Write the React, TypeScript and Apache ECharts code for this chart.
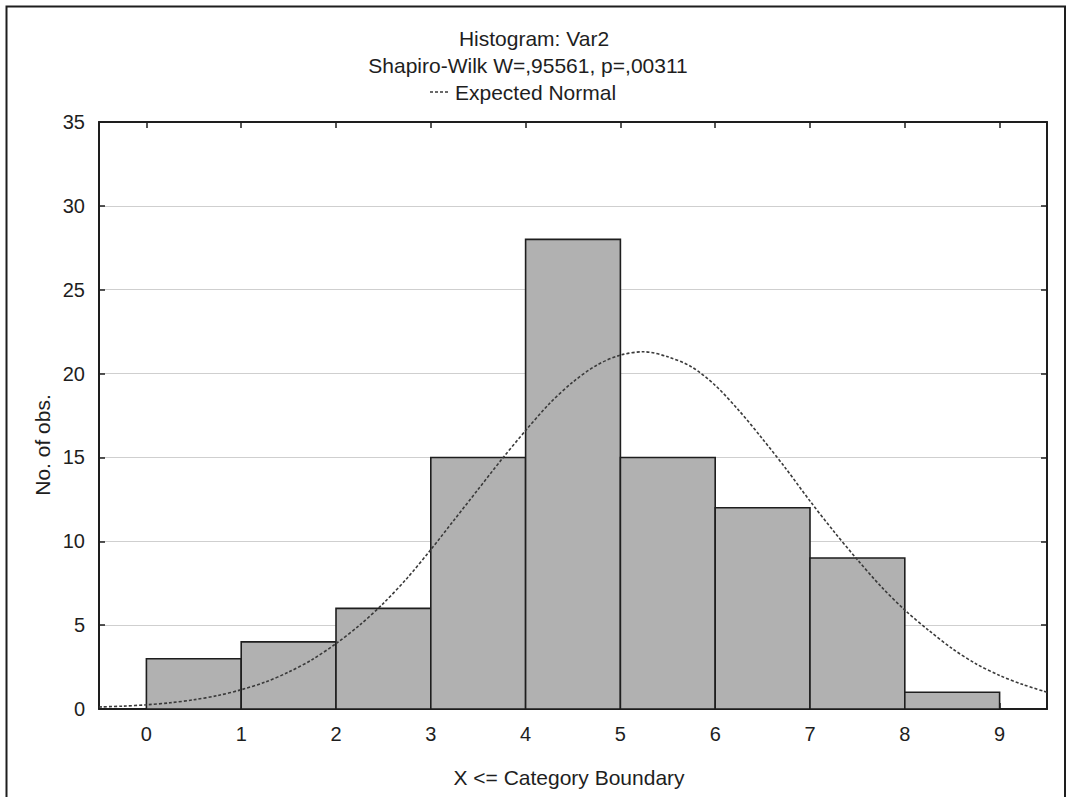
import React, { useEffect, useRef } from "react";
import * as echarts from "echarts";

// Histogram bins (lower/upper category boundaries) and observed counts
const binLower = [0, 1, 2, 3, 4, 5, 6, 7, 8];
const binUpper = [1, 2, 3, 4, 5, 6, 7, 8, 9];
const counts = [3, 4, 6, 15, 28, 15, 12, 9, 1];

// Expected normal curve, sampled every quarter unit along the x axis
const curveX = [
  -0.5, -0.25, 0, 0.25, 0.5, 0.75, 1, 1.25, 1.5, 1.75, 2, 2.25, 2.5, 2.75, 3, 3.25, 3.5, 3.75, 4, 4.25, 4.5,
  4.75, 5, 5.25, 5.5, 5.75, 6, 6.25, 6.5, 6.75, 7, 7.25, 7.5, 7.75, 8, 8.25, 8.5, 8.75, 9, 9.25, 9.5,
];
const curveY = [
  0.12, 0.17, 0.25, 0.37, 0.55, 0.8, 1.15, 1.6, 2.2, 2.95, 3.9, 5.0, 6.3, 7.8, 9.5, 11.3, 13.1, 14.9, 16.6, 18.2,
  19.5, 20.5, 21.1, 21.3, 21.0, 20.4, 19.3, 17.8, 16.1, 14.3, 12.4, 10.6, 8.9, 7.3, 5.9, 4.7, 3.6, 2.7, 2.0, 1.45,
  1.0,
];

const xTicks = [0, 1, 2, 3, 4, 5, 6, 7, 8, 9];

const titleText = "Histogram: Var2";
const subtitleText = "Shapiro-Wilk W=,95561, p=,00311";
const legendText = "Expected Normal";
const xName = "X <= Category Boundary";
const yName = "No. of obs.";

const FONT = "'Liberation Sans', Arial, sans-serif";
const INK = "#1e1e1e";
const CURVE = "#3a3a3a";

export default function App() {
  const ref = useRef<HTMLDivElement>(null);

  useEffect(() => {
    if (!ref.current) return;
    const chart = echarts.init(ref.current, null, { renderer: "svg" });

    const bins = binLower.map((lo, i) => [lo, binUpper[i], counts[i]]);
    const curve = curveX.map((x, i) => [x, curveY[i]]);

    const tickBase = {
      show: true,
      inside: true,
      length: 6,
      lineStyle: { color: INK, width: 1.5 },
    };
    const lineBase = { show: true, lineStyle: { color: INK, width: 2 } };

    chart.setOption({
      animation: false,
      backgroundColor: "#ffffff",
      grid: { left: 99, right: 20, top: 122, bottom: 88 },
      xAxis: [
        {
          type: "value",
          position: "bottom",
          min: -0.5,
          max: 9.5,
          axisLine: { ...lineBase, onZero: false },
          axisTick: { ...tickBase, customValues: xTicks },
          axisLabel: {
            customValues: xTicks,
            color: INK,
            fontSize: 20,
            fontFamily: FONT,
            margin: 15,
          },
          splitLine: { show: false },
        },
        {
          type: "value",
          position: "top",
          min: -0.5,
          max: 9.5,
          axisLine: { ...lineBase, onZero: false },
          axisTick: { ...tickBase, customValues: xTicks },
          axisLabel: { show: false },
          splitLine: { show: false },
        },
      ],
      yAxis: [
        {
          type: "value",
          position: "left",
          min: 0,
          max: 35,
          interval: 5,
          axisLine: { ...lineBase, onZero: false },
          axisTick: tickBase,
          axisLabel: { color: INK, fontSize: 20, fontFamily: FONT, margin: 14 },
          splitLine: { show: true, lineStyle: { color: "#cfcfcf", width: 1.2 } },
        },
        {
          type: "value",
          position: "right",
          min: 0,
          max: 35,
          interval: 5,
          axisLine: { ...lineBase, onZero: false },
          axisTick: tickBase,
          axisLabel: { show: false },
          splitLine: { show: false },
        },
      ],
      series: [
        {
          type: "custom",
          xAxisIndex: 0,
          yAxisIndex: 0,
          data: bins,
          encode: { x: [0, 1], y: 2 },
          renderItem: (params: any, api: any) => {
            const p0 = api.coord([api.value(0), api.value(2)]);
            const p1 = api.coord([api.value(1), 0]);
            return {
              type: "rect",
              shape: { x: p0[0], y: p0[1], width: p1[0] - p0[0], height: p1[1] - p0[1] },
              style: { fill: "#b1b1b1", stroke: INK, lineWidth: 1.6 },
            };
          },
          z: 2,
        },
        {
          type: "line",
          xAxisIndex: 0,
          yAxisIndex: 0,
          data: curve,
          smooth: 0.3,
          symbol: "none",
          lineStyle: { color: CURVE, width: 1.6, type: [3, 2] },
          z: 3,
        },
      ],
      graphic: [
        {
          type: "polyline",
          shape: { points: [[6.5, 797], [6.5, 6.5], [1065, 6.5], [1065, 797]] },
          style: { stroke: INK, lineWidth: 2, fill: "none" },
        },
        {
          type: "text",
          x: 534,
          y: 38,
          style: { text: titleText, font: `21px ${FONT}`, fill: INK, align: "center", verticalAlign: "middle" },
        },
        {
          type: "text",
          x: 528,
          y: 65,
          style: { text: subtitleText, font: `21px ${FONT}`, fill: INK, align: "center", verticalAlign: "middle" },
        },
        {
          type: "line",
          shape: { x1: 430, y1: 92, x2: 449, y2: 92 },
          style: { stroke: CURVE, lineWidth: 1.6, lineDash: [3, 2] },
        },
        {
          type: "text",
          x: 455,
          y: 92,
          style: { text: legendText, font: `21px ${FONT}`, fill: INK, align: "left", verticalAlign: "middle" },
        },
        {
          type: "text",
          x: 569,
          y: 777,
          style: { text: xName, font: `21px ${FONT}`, fill: INK, align: "center", verticalAlign: "middle" },
        },
        {
          type: "text",
          x: 42,
          y: 445,
          rotation: Math.PI / 2,
          style: { text: yName, font: `21px ${FONT}`, fill: INK, align: "center", verticalAlign: "middle" },
        },
      ],
    });

    return () => chart.dispose();
  }, []);

  return (
    <div
      ref={ref}
      style={{ position: "absolute", left: 0, top: 0, width: 1067, height: 797 }}
    />
  );
}
